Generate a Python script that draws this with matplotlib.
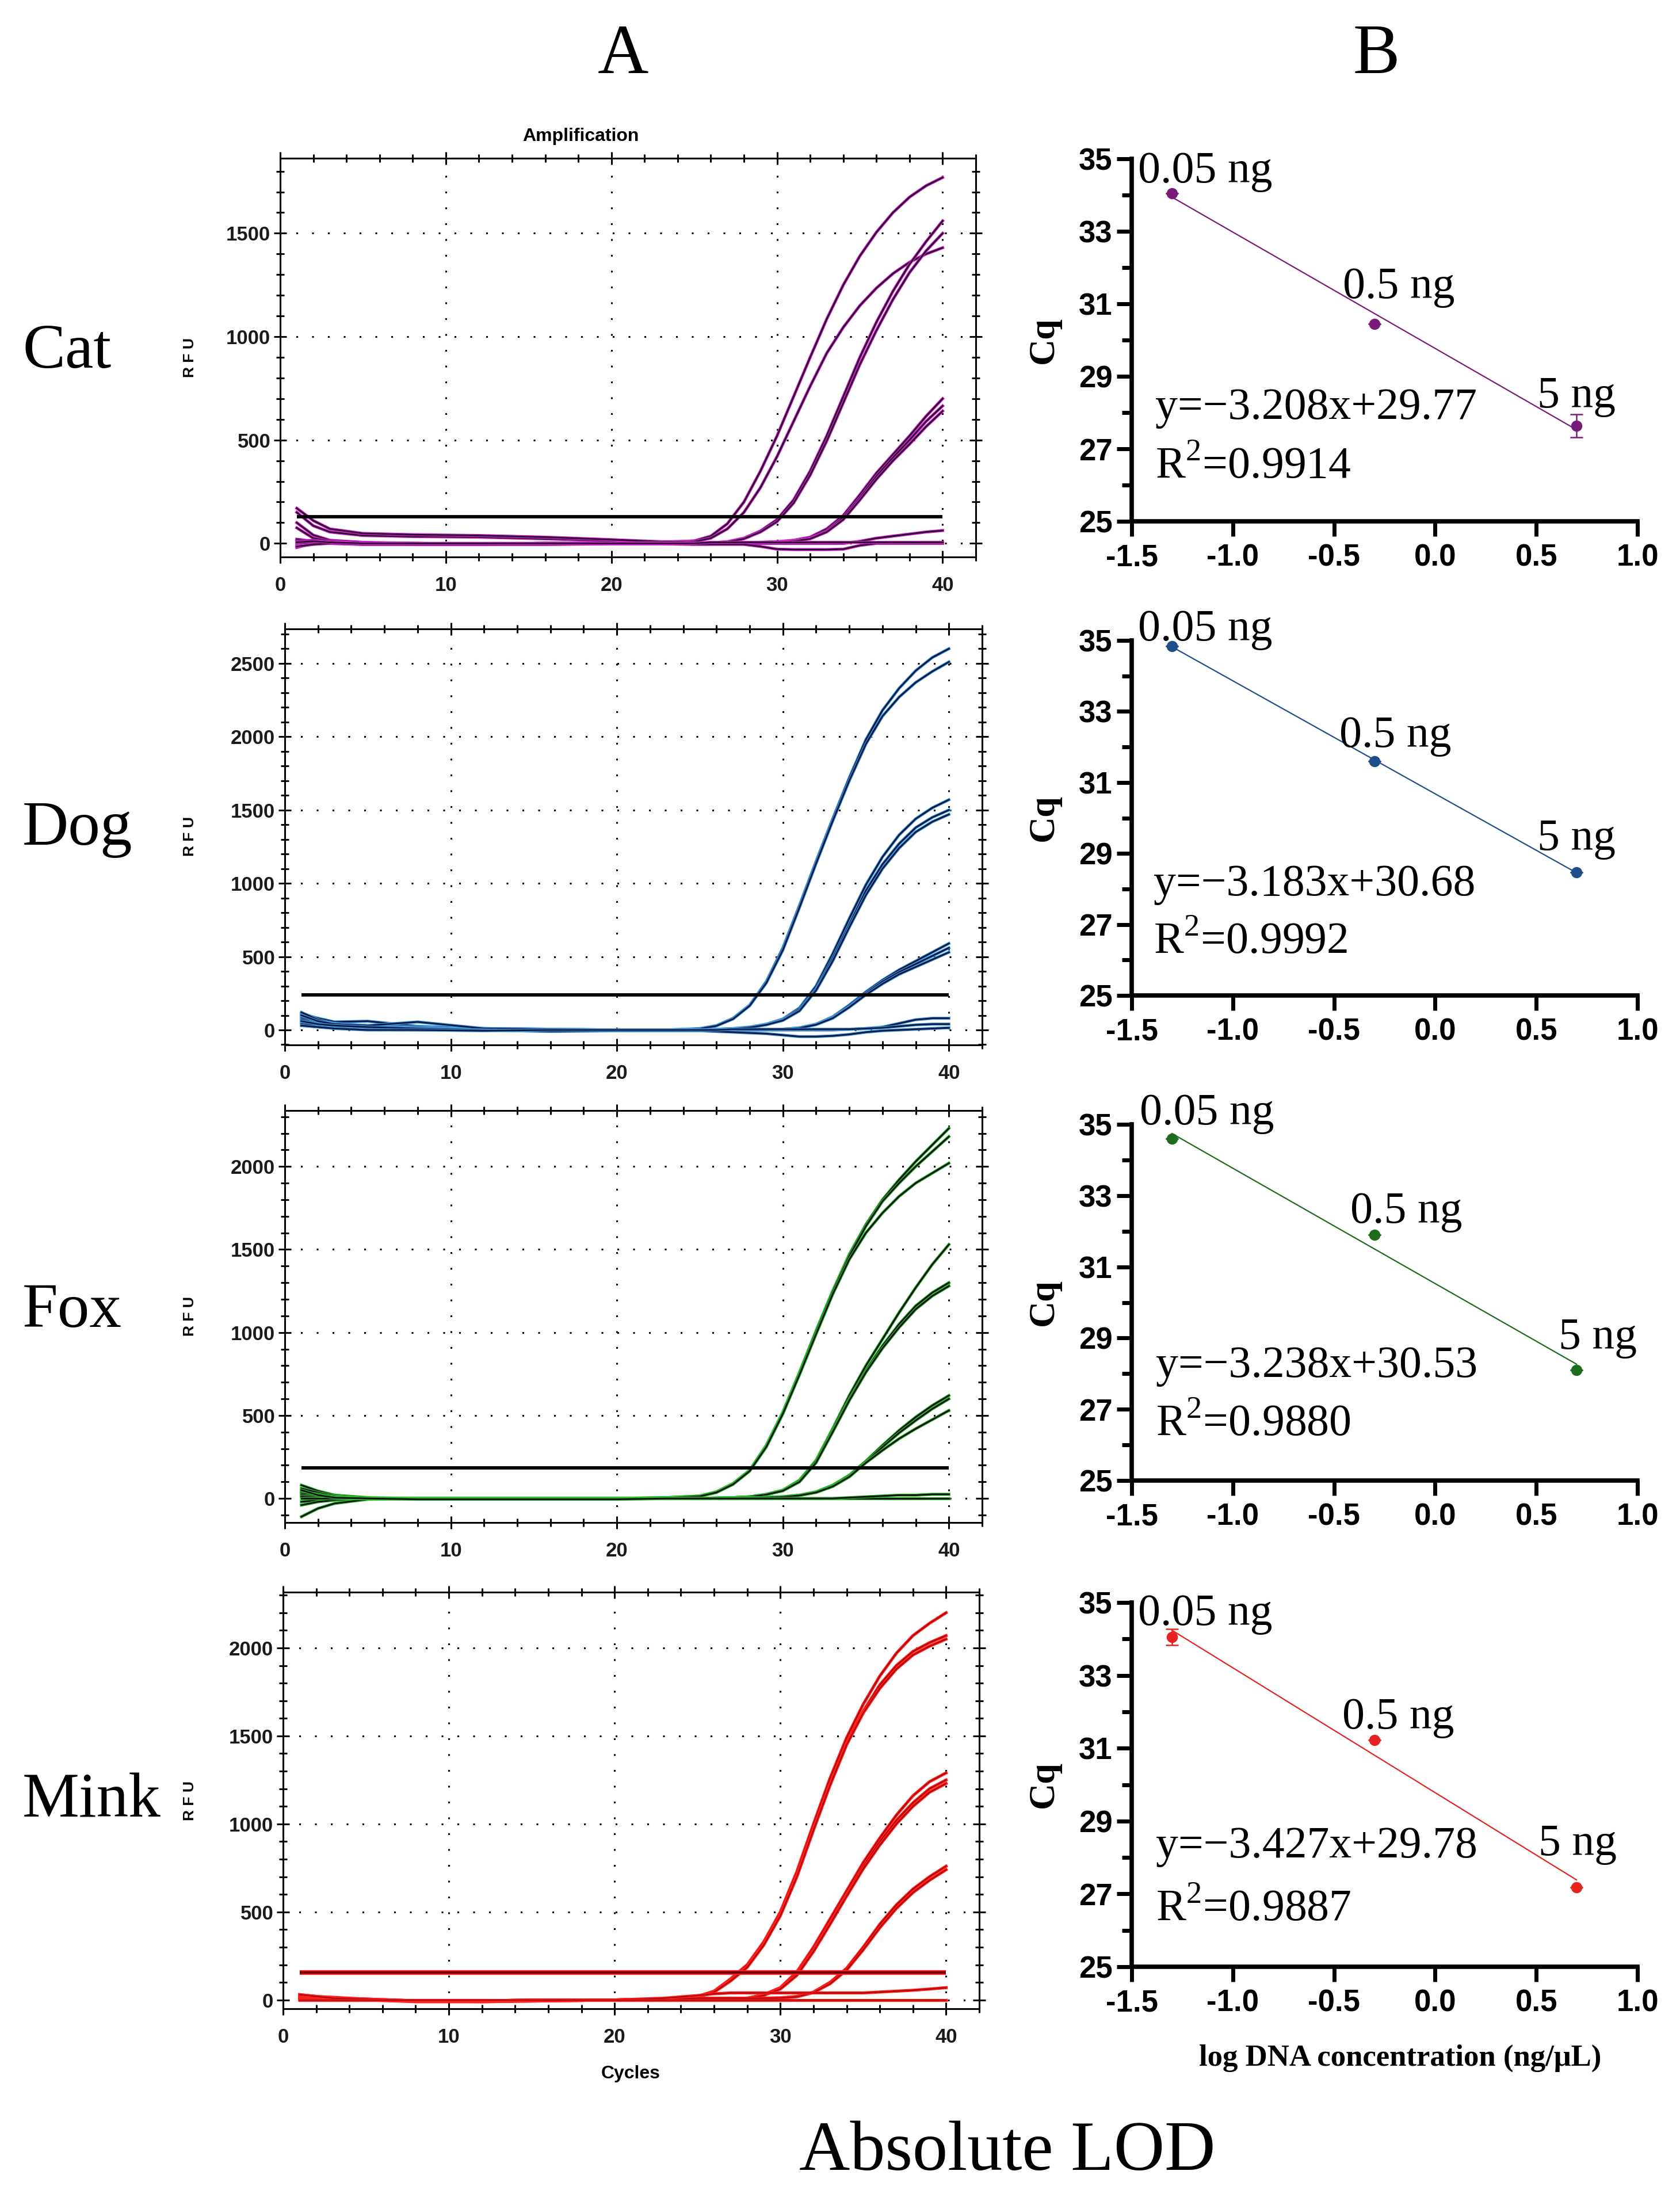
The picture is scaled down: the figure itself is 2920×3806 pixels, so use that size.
import matplotlib.pyplot as plt
from matplotlib.ticker import MultipleLocator

# ---------------- data ----------------
# amplification curves (RFU), one value per cycle in `cycles`
cycles = [1, 2, 3, 5, 8, 12, 16, 20, 23, 25, 26, 27, 28, 29, 30, 31, 32, 33, 34, 35, 36, 37, 38, 39, 40]

cat_curves = [
    [150, 85, 55, 38, 33, 30, 22, 12, 5, 12, 35, 95, 200, 350, 520, 710, 900, 1085, 1250, 1390, 1505, 1600, 1675, 1730, 1770],
    [170, 110, 70, 48, 42, 38, 30, 18, 8, 8, 25, 70, 150, 270, 420, 590, 760, 920, 1045, 1150, 1235, 1305, 1360, 1400, 1430],
    [100, 40, 15, 5, 0, -5, -5, 0, 0, 0, 2, 8, 25, 60, 115, 210, 350, 520, 710, 900, 1070, 1220, 1350, 1460, 1560],
    [75, 25, 10, 0, -5, -5, 0, 0, 0, 0, 2, 7, 22, 55, 105, 195, 330, 495, 680, 865, 1030, 1180, 1310, 1415, 1500],
    [20, 10, 5, 0, 0, -5, 0, 0, 0, 0, 0, 0, 2, 5, 8, 15, 30, 70, 135, 235, 340, 430, 520, 615, 700],
    [-20, 0, 5, 0, -5, -5, 0, 0, 0, 0, 0, 0, 2, 4, 7, 12, 25, 60, 125, 220, 325, 415, 500, 590, 665],
    [0, 5, 0, -5, -5, -5, 0, 0, 0, 0, 0, 0, 2, 4, 6, 10, 22, 55, 115, 210, 310, 400, 480, 565, 640],
    [10, 15, 5, 0, 0, -5, 0, 0, 0, 0, 0, 0, 0, 0, 0, 0, 0, 0, 0, 10, 25, 35, 45, 55, 62],
    [-15, -5, 0, -5, -5, -5, -5, -3, -3, -5, -5, -5, -5, -15, -28, -30, -30, -30, -28, -10, 0, 0, 0, 0, 0],
    [5, 10, 5, 0, 0, 0, 0, 0, 0, 0, 5, 5, 5, 5, 5, 5, 5, 5, 5, 5, 5, 5, 5, 5, 5],
]
dog_curves = [
    [110, 80, 55, 60, 25, 10, 5, 0, 0, 10, 30, 80, 170, 330, 560, 850, 1150, 1440, 1720, 1980, 2180, 2330, 2450, 2540, 2600],
    [90, 65, 45, 30, 20, 10, 5, 0, 0, 8, 28, 75, 165, 320, 545, 835, 1135, 1425, 1700, 1950, 2140, 2270, 2370, 2445, 2510],
    [120, 70, 40, 25, 15, 5, 0, 0, 0, 0, 5, 10, 20, 40, 75, 150, 300, 520, 760, 990, 1180, 1330, 1440, 1515, 1570],
    [80, 50, 35, 20, 10, 5, 0, -5, 0, 0, 4, 9, 18, 37, 70, 140, 280, 490, 720, 950, 1130, 1270, 1380, 1450, 1500],
    [70, 45, 30, 15, 10, 0, 0, -5, 0, 0, 4, 8, 17, 35, 65, 130, 270, 470, 700, 920, 1100, 1240, 1350, 1420, 1470],
    [60, 40, 25, 10, 5, 0, 0, 0, 0, 0, 0, 0, 2, 3, 5, 15, 40, 90, 170, 260, 340, 410, 470, 530, 590],
    [50, 35, 20, 10, 5, 0, -5, 0, 0, 0, 0, 0, 2, 3, 5, 14, 38, 85, 160, 250, 330, 395, 450, 505, 560],
    [40, 30, 20, 5, 0, 0, -5, 0, 0, 0, 0, 0, 2, 3, 5, 13, 36, 80, 155, 240, 315, 380, 430, 480, 530],
    [100, 60, 40, 30, 55, 10, 5, 0, 0, 0, 0, 0, 0, 0, 0, 0, 0, 0, 5, 10, 20, 45, 70, 80, 80],
    [60, 40, 30, 20, 10, 0, -10, -5, -5, -5, -10, -15, -20, -25, -35, -45, -45, -40, -30, -15, -5, 0, 5, 10, 15],
    [30, 20, 10, 0, 0, -5, 0, 0, 0, 0, 0, 5, 5, 5, 5, 5, 5, 5, 5, 10, 15, 25, 35, 40, 40],
]
fox_curves = [
    [80, 45, 20, 5, 0, 0, 0, 0, 5, 15, 40, 90, 170, 320, 520, 760, 1010, 1250, 1470, 1650, 1800, 1920, 2030, 2130, 2230],
    [60, 35, 15, 0, 0, 0, 0, 0, 5, 14, 38, 88, 168, 315, 515, 755, 1005, 1245, 1460, 1640, 1790, 1900, 2000, 2090, 2180],
    [40, 25, 10, 0, 0, 0, 0, 0, 4, 13, 36, 85, 165, 310, 510, 745, 990, 1230, 1440, 1600, 1720, 1820, 1900, 1960, 2020],
    [30, 15, 5, 0, 0, 0, 0, 0, 0, 0, 3, 5, 10, 25, 50, 110, 230, 420, 620, 800, 960, 1120, 1270, 1410, 1530],
    [20, 10, 5, 0, 0, 0, 0, 0, 0, 0, 3, 5, 10, 24, 48, 105, 225, 410, 600, 770, 920, 1050, 1160, 1240, 1300],
    [10, 5, 0, 0, 0, 0, 0, 0, 0, 0, 3, 5, 10, 23, 46, 100, 215, 400, 590, 760, 905, 1030, 1140, 1220, 1280],
    [-20, -10, -5, 0, 0, 0, 0, 0, 0, 0, 0, 2, 4, 6, 10, 20, 40, 80, 140, 225, 320, 410, 490, 560, 620],
    [-40, -20, -10, 0, 0, 0, 0, 0, 0, 0, 0, 2, 4, 6, 10, 19, 38, 76, 135, 218, 310, 395, 470, 540, 600],
    [-110, -60, -30, -5, 0, 0, 0, 0, 0, 0, 0, 2, 4, 6, 9, 18, 36, 72, 130, 215, 290, 360, 420, 475, 530],
    [0, 0, 0, 0, 0, 0, 0, 0, 0, 0, 0, 0, 0, 0, 0, 0, 0, 0, 0, 0, 0, 0, 0, 0, 0],
    [50, 20, 5, 0, -5, -5, -5, -5, 0, 0, 0, 0, 0, 0, 0, 0, 0, 0, 5, 10, 15, 20, 20, 25, 25],
]
mink_curves = [
    [30, 20, 15, 5, -5, -5, -5, 0, 5, 20, 50, 120, 200, 330, 500, 730, 1000, 1260, 1490, 1680, 1840, 1970, 2070, 2140, 2200],
    [25, 15, 10, 5, -5, -10, -5, 0, 5, 18, 46, 112, 190, 318, 485, 710, 975, 1230, 1460, 1640, 1790, 1900, 1980, 2030, 2070],
    [20, 15, 10, 0, -10, -10, -5, 0, 4, 17, 44, 108, 185, 312, 478, 700, 965, 1220, 1450, 1630, 1770, 1880, 1960, 2010, 2050],
    [15, 10, 5, 0, -5, -5, 0, 0, 5, 5, 5, 5, 10, 30, 70, 160, 300, 460, 620, 780, 920, 1050, 1160, 1240, 1290],
    [10, 5, 5, 0, -5, -5, 0, 0, 5, 5, 5, 5, 9, 28, 65, 150, 285, 440, 600, 760, 900, 1020, 1120, 1200, 1250],
    [10, 5, 0, 0, -5, -5, 0, 0, 5, 5, 5, 5, 8, 26, 62, 140, 275, 430, 590, 745, 880, 1000, 1100, 1180, 1230],
    [5, 5, 0, 0, -5, -5, 0, 0, 5, 10, 10, 10, 10, 10, 12, 20, 45, 100, 180, 300, 430, 540, 630, 700, 760],
    [0, 0, 0, 0, -5, -5, 0, 0, 5, 10, 10, 10, 10, 10, 11, 18, 42, 92, 170, 285, 410, 520, 610, 680, 740],
    [30, 20, 10, 5, -5, -5, 0, 0, 10, 25, 35, 40, 40, 40, 40, 40, 40, 40, 40, 40, 45, 50, 55, 62, 70],
    [0, 0, 0, 0, 0, 0, 0, 0, 0, 0, 0, 0, 0, 0, 0, 0, 0, 0, 0, 0, 0, 0, 0, 0, 0],
]
thresholds = {'Cat': 130, 'Dog': 240, 'Fox': 185, 'Mink': 155}

# standard curves: Cq against log DNA amount
log_conc = [-1.301, -0.301, 0.699]
amount_labels = ['0.05 ng', '0.5 ng', '5 ng']
cat_cq = [34.05, 30.45, 27.63]
dog_cq = [34.83, 31.60, 28.47]
fox_cq = [34.60, 31.90, 28.10]
mink_cq = [34.05, 31.22, 27.18]
cat_sd = [0, 0, 0.32]
dog_sd = [0, 0, 0]
fox_sd = [0, 0, 0]
mink_sd = [0.22, 0, 0]
fits = {'Cat': (-3.208, 29.77, '0.9914'), 'Dog': (-3.183, 30.68, '0.9992'),
        'Fox': (-3.238, 30.53, '0.9880'), 'Mink': (-3.427, 29.78, '0.9887')}

# ---------------- figure ----------------
plt.rcParams['font.family'] = ['Liberation Serif', 'DejaVu Serif']
plt.rcParams['mathtext.fontset'] = 'custom'
plt.rcParams['mathtext.rm'] = 'Liberation Serif'
plt.rcParams['axes.unicode_minus'] = False

W, H = 2920, 3806
fig = plt.figure(figsize=(W / 100, H / 100), dpi=100)
SANS = 'Liberation Sans'


def add_box(l, t, r, b):
    # axes placed by pixel edges of the reference image
    return fig.add_axes([l / W, 1 - b / H, (r - l) / W, (b - t) / H])


def put(x, y, s, **kw):
    fig.text(x / W, 1 - y / H, s, **kw)


def amp_panel(box, curves, thr, ylim, halo, core, core_w, thr_cols):
    ax = add_box(*box)
    ax.set_xlim(0, 42)
    ax.set_ylim(*ylim)
    ax.xaxis.set_major_locator(MultipleLocator(10))
    ax.xaxis.set_minor_locator(MultipleLocator(2))
    ax.yaxis.set_major_locator(MultipleLocator(500))
    ax.yaxis.set_minor_locator(MultipleLocator(100))
    ax.grid(True, which='major', color='black', linestyle=(0, (1, 8)), linewidth=2.2)
    ax.set_axisbelow(True)
    for vals in curves:
        ax.plot(cycles, vals, color=halo, lw=3.8)
        ax.plot(cycles, vals, color=core, lw=core_w)
    for c, w in thr_cols:
        ax.hlines(thr, cycles[0], cycles[-1], color=c, lw=w)
    for s in ax.spines.values():
        s.set_linewidth(2.2)
    ax.tick_params(which='both', direction='inout', top=True, right=True, width=2.2,
                   labelsize=25, labelcolor='#1a1a1a')
    ax.tick_params(which='major', length=16)
    ax.tick_params(which='minor', length=10)
    ax.tick_params(axis='y', pad=4)
    ax.tick_params(axis='x', pad=16)
    for lab in ax.get_xticklabels() + ax.get_yticklabels():
        lab.set_family(SANS)
        lab.set_fontweight('bold')
    return ax


def std_panel(top, bottom, cq, sd, fit, color, text_pos):
    ax = add_box(1967, top, 2846, bottom)
    slope, icpt, r2 = fit
    ends = [log_conc[0], log_conc[-1]]
    ax.plot(ends, [slope * x + icpt for x in ends], color=color, lw=1.6, zorder=2)
    ax.errorbar(log_conc, cq, yerr=sd, fmt='o', color=color, ms=13, elinewidth=1.8,
                capsize=8, capthick=1.8, zorder=3)
    ax.set_xlim(-1.5, 1.0)
    ax.set_ylim(25, 35)
    ax.set_xticks([-1.5, -1.0, -0.5, 0.0, 0.5, 1.0])
    ax.set_yticks([25, 27, 29, 31, 33, 35])
    ax.set_yticks([26, 28, 30, 32, 34], minor=True)
    for side in ['top', 'right']:
        ax.spines[side].set_visible(False)
    for side in ['left', 'bottom']:
        ax.spines[side].set_linewidth(5.5)
    ax.tick_params(which='major', length=19, width=5, direction='out', labelsize=38)
    ax.tick_params(which='minor', length=12, width=5, direction='out')
    ax.tick_params(axis='y', pad=5)
    ax.tick_params(axis='x', pad=9)
    for lab in ax.get_xticklabels() + ax.get_yticklabels():
        lab.set_family(SANS)
        lab.set_fontweight('bold')
    # amount labels, equation and R2
    for name, (x, y) in zip(amount_labels, text_pos[:3]):
        ax.text(x, y, name, fontsize=56, ha='left', va='baseline')
    ex, ey = text_pos[3]
    ax.text(ex, ey, 'y=\u2212%.3fx+%.2f' % (abs(slope), icpt), fontsize=56, ha='left', va='baseline')
    rx, ry = text_pos[4]
    ax.text(rx, ry, r'$\mathrm{R}^{2}$=' + r2, fontsize=56, ha='left', va='baseline')
    return ax


# column A: amplification plots
amp_panel((487, 275, 1696, 968), cat_curves, thresholds['Cat'], (-66, 1863),
          '#d02ad0', '#2e0a2e', 2.0, [('black', 4.2)])
amp_panel((495, 1093, 1707, 1816), dog_curves, thresholds['Dog'], (-102, 2735),
          '#4a9de0', '#081a45', 2.1, [('black', 4.2)])
amp_panel((495, 1930, 1707, 2646), fox_curves, thresholds['Fox'], (-145, 2337),
          '#2fbf2f', '#111111', 2.1, [('black', 4.2)])
amp_panel((492, 2767, 1702, 3491), mink_curves, thresholds['Mink'], (-50, 2317),
          '#ff2020', '#a00000', 1.3, [('#ff2020', 6.0), ('#7a0000', 3.2)])

put(1009, 245, 'Amplification', fontsize=23, family=SANS, fontweight='bold', ha='center', va='baseline')
put(1096, 3612, 'Cycles', fontsize=23, family=SANS, fontweight='bold', ha='center', va='baseline')
for yc in [621, 1454, 2288, 3129]:
    put(330, yc, 'R F U', fontsize=19, family=SANS, fontweight='bold', rotation=90, ha='center', va='center')

# column B: standard curves
std_panel(276, 906, cat_cq, cat_sd, fits['Cat'], '#7a1a78',
          [(-1.468, 34.35), (-0.457, 31.16), (0.504, 28.15), (-1.383, 27.82), (-1.383, 26.2)])
std_panel(1113, 1730, dog_cq, dog_sd, fits['Dog'], '#1f4e8a',
          [(-1.468, 35.0), (-0.472, 32.0), (0.506, 29.1), (-1.393, 27.82), (-1.393, 26.2)])
std_panel(1954, 2573, fox_cq, fox_sd, fits['Fox'], '#1d6b1d',
          [(-1.46, 35.0), (-0.42, 32.24), (0.61, 28.7), (-1.38, 27.9), (-1.38, 26.28)])
std_panel(2785, 3418, mink_cq, mink_sd, fits['Mink'], '#e8231f',
          [(-1.47, 34.39), (-0.46, 31.54), (0.51, 28.07), (-1.38, 28.0), (-1.38, 26.28)])

for yc in [591, 1421, 2263, 3101]:
    put(1815, yc, 'Cq', fontsize=46, fontweight='bold', rotation=90, ha='center', va='center')
put(2434, 3577, 'log DNA concentration (ng/\u03bcL)', fontsize=38, fontweight='bold', ha='center', va='center')

# panel letters, species names and overall caption
put(1083, 127, 'A', fontsize=88, ha='center', va='baseline')
put(2392, 127, 'B', fontsize=88, ha='center', va='baseline')
for name, yb in [('Cat', 639), ('Dog', 1468), ('Fox', 2306), ('Mink', 3157)]:
    put(39, yb, name, fontsize=80, ha='left', va='baseline')
put(1751, 3771, 'Absolute LOD', fontsize=88, ha='center', va='baseline')

fig.savefig('out.png', dpi=100, facecolor='white')
